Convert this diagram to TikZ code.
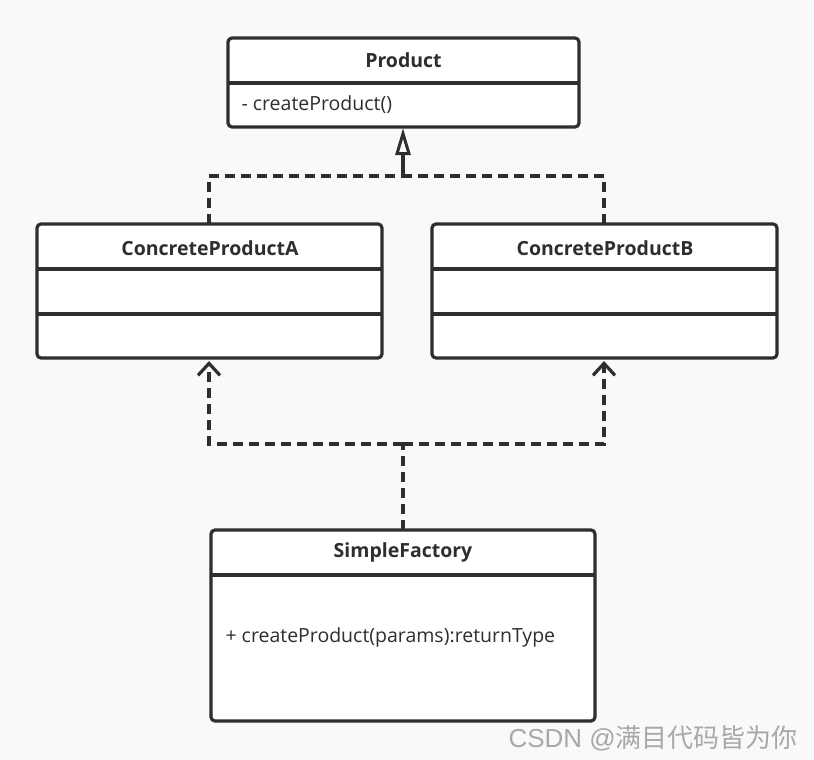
\documentclass[tikz,border=0pt]{standalone}
\usepackage{fontspec}
\setmainfont{Open Sans}
\setsansfont{Liberation Sans}
\newfontfamily\cjk{Noto Sans CJK SC}
\usetikzlibrary{arrows.meta}
\definecolor{bg}{HTML}{F9F9F9}
\definecolor{ink}{HTML}{2E2E2E}
\definecolor{wm}{HTML}{A8A8A8}
\begin{document}
\begin{tikzpicture}[x=1pt,y=-1pt,
  box/.style={draw=ink,fill=white,line width=3.2pt,rounded corners=4pt},
  sep/.style={draw=ink,line width=3.2pt},
  title/.style={font=\fontsize{19.5}{22}\selectfont\bfseries,text=ink},
  member/.style={font=\fontsize{19.5}{22}\selectfont,text=ink,anchor=west},
  dep/.style={draw=ink,line width=3.2pt,dash pattern=on 10pt off 6pt},
  real/.style={draw=ink,line width=3.2pt}]
\fill[bg] (0,0) rectangle (814,760);
\useasboundingbox (0,0) rectangle (814,760);
% Product
\draw[box] (228,38) rectangle (579,127);
\draw[sep] (228,83) -- (579,83);
\node[title] (p) at (403.5,60) {Product};
\node[member] (pm) at (238,105) {- createProduct()};
\coordinate (ptop) at (403,128);
% A
\draw[box] (37,224) rectangle (382,358);
\draw[sep] (37,269) -- (382,269);
\draw[sep] (37,314) -- (382,314);
\node[title] (a) at (210,248) {ConcreteProductA};
\coordinate (atop) at (209,224);
\coordinate (abot) at (209,361);
% B
\draw[box] (432,224) rectangle (777,358);
\draw[sep] (432,269) -- (777,269);
\draw[sep] (432,314) -- (777,314);
\node[title] (b) at (605,248) {ConcreteProductB};
\coordinate (btop) at (604,224);
\coordinate (bbot) at (604,361);
% SimpleFactory
\draw[box] (211,530) rectangle (595,721);
\draw[sep] (211,575) -- (595,575);
\node[title] (s) at (403,552) {SimpleFactory};
\node[member] (sm) at (222,637) {+ createProduct(params):returnType};
\coordinate (stop) at (403,530);
% realization connectors
\coordinate (j1) at (403,176);
\draw[dep] (atop) |- (j1);
\draw[dep] (btop) |- (j1);
\draw[real,-{Triangle[open,length=27pt,width=15pt,line width=3pt]}] (j1) -- (ptop);
% dependency connectors
\coordinate (j2) at (403,444);
\draw[dep] (stop) -- (j2);
\draw[dep,-{Straight Barb[length=12pt,width=22pt,line width=3.2pt]}] (j2) -| (abot);
\draw[dep,-{Straight Barb[length=12pt,width=22pt,line width=3.2pt]}] (j2) -| (bbot);
% watermark
\node[font=\fontsize{26}{28}\selectfont,text=wm,anchor=east,inner sep=0pt] (w) at (798,738) {\sffamily CSDN @\cjk 满目代码皆为你};
\end{tikzpicture}
\end{document}
